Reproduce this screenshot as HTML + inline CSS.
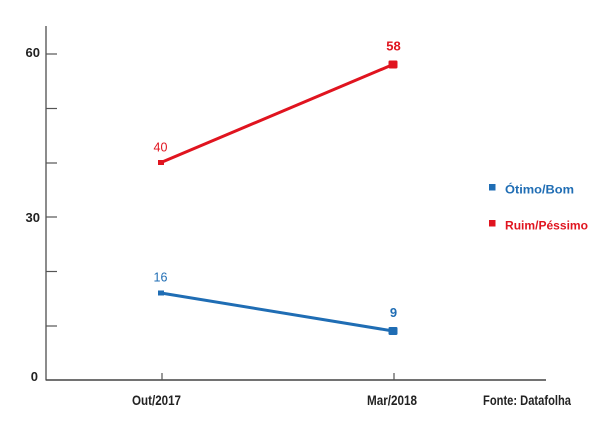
<!DOCTYPE html>
<html><head><meta charset="utf-8"><style>
html,body{margin:0;padding:0;background:#fff;}
svg{display:block;}
text{font-family:"Liberation Sans",sans-serif;}
</style></head><body>
<svg width="613" height="435" viewBox="0 0 613 435" xmlns="http://www.w3.org/2000/svg">
<rect width="613" height="435" fill="#fff"/>
<!-- axes -->
<line x1="46" y1="26" x2="46" y2="380.5" stroke="#666" stroke-width="1.5"/>
<line x1="46" y1="380" x2="546" y2="380" stroke="#444" stroke-width="1.5"/>
<g stroke="#555" stroke-width="1.2">
<line x1="46" y1="54" x2="57" y2="54"/>
<line x1="46" y1="108.5" x2="57" y2="108.5"/>
<line x1="46" y1="163" x2="57" y2="163"/>
<line x1="46" y1="217" x2="57" y2="217"/>
<line x1="46" y1="271.5" x2="57" y2="271.5"/>
<line x1="46" y1="326" x2="57" y2="326"/>
<line x1="162" y1="373" x2="162" y2="380"/>
<line x1="394" y1="373" x2="394" y2="380"/>
</g>
<!-- y labels -->
<g font-weight="bold" font-size="13" fill="#222" text-anchor="end">
<text x="40" y="57">60</text>
<text x="40" y="222">30</text>
<text x="38" y="381">0</text>
</g>
<!-- x labels -->
<g font-weight="bold" font-size="13.5" fill="#222">
<text x="132" y="405" textLength="49" lengthAdjust="spacingAndGlyphs">Out/2017</text>
<text x="367" y="405" textLength="50" lengthAdjust="spacingAndGlyphs">Mar/2018</text>
<text x="483" y="405" textLength="88" lengthAdjust="spacingAndGlyphs">Fonte: Datafolha</text>
</g>
<!-- red series -->
<line x1="161" y1="162.5" x2="393" y2="64.5" stroke="#e0141f" stroke-width="3"/>
<rect x="158" y="160" width="6" height="5" fill="#e0141f"/>
<rect x="388.5" y="60.5" width="9" height="8" rx="1.2" fill="#e0141f"/>
<text x="160.5" y="151.5" font-size="12.5" fill="#e0141f" text-anchor="middle">40</text>
<text x="393.5" y="50.5" font-size="13" font-weight="bold" fill="#e0141f" text-anchor="middle">58</text>
<!-- blue series -->
<line x1="161" y1="293" x2="393" y2="331" stroke="#1f6db4" stroke-width="3"/>
<rect x="158" y="290.5" width="6" height="5" fill="#1f6db4"/>
<rect x="388.5" y="327" width="9" height="8" rx="1.2" fill="#1f6db4"/>
<text x="160.5" y="281.5" font-size="12.5" fill="#1f6db4" text-anchor="middle">16</text>
<text x="393.5" y="317" font-size="13" font-weight="bold" fill="#1f6db4" text-anchor="middle">9</text>
<!-- legend -->
<rect x="489" y="184" width="6.5" height="6.5" fill="#1f6db4"/>
<text x="505" y="193.5" font-size="12" font-weight="bold" fill="#1f6db4" textLength="69" lengthAdjust="spacingAndGlyphs">Ótimo/Bom</text>
<rect x="489" y="220" width="6.5" height="6.5" fill="#e0141f"/>
<text x="505" y="229.5" font-size="12" font-weight="bold" fill="#e0141f" textLength="83" lengthAdjust="spacingAndGlyphs">Ruim/Péssimo</text>
</svg>
</body></html>
